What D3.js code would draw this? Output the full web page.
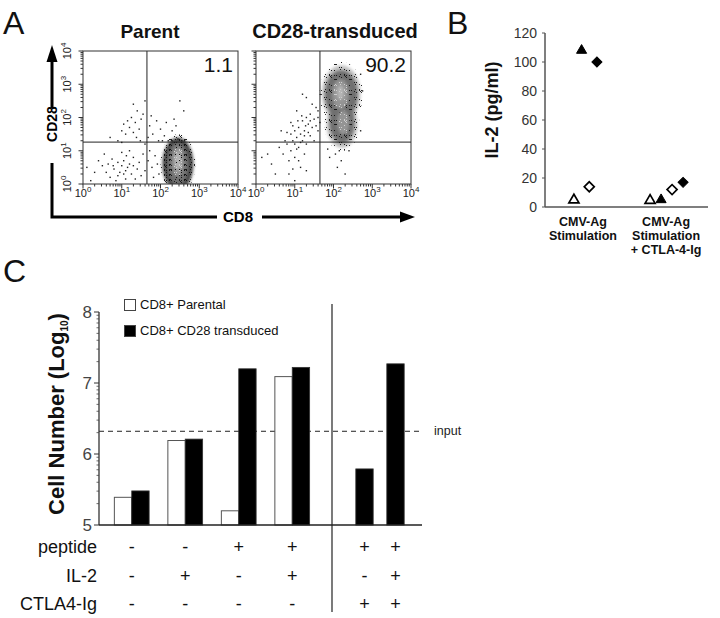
<!DOCTYPE html>
<html><head><meta charset="utf-8">
<script src="https://cdn.jsdelivr.net/npm/d3@7"></script>
<style>body{margin:0;background:#fff}svg{display:block}text{font-family:"Liberation Sans",Arial,Helvetica,sans-serif}</style>
</head><body>
<svg id="c" width="720" height="618"></svg>
<script>
// ---------- Panel A : flow cytometry (log10 units) ----------
const flowPlots = ["Parent", "CD28-transduced"];
const flowPercent = ["1.1", "90.2"];
const flowDecades = [0, 1, 2, 3, 4];
const quadrantGate = [1.65, 1.26]; // log10 CD8, log10 CD28
// dense populations: [log CD8 centre, log CD28 centre, log half-width, log half-height, density level]
const parentClusters = [[2.45,0.6,0.40,0.80,1],[2.45,0.6,0.28,0.66,2],[2.45,0.68,0.16,0.45,3],[2.45,0.7,0.08,0.28,4]];
const transducedClusters = [[2.2,2.72,0.5,0.85,0],[2.22,1.8,0.4,0.72,0],[2.2,2.7,0.42,0.72,2],[2.22,1.85,0.32,0.62,2],[2.18,2.7,0.22,0.45,3],[2.25,1.85,0.16,0.36,3],[2.18,2.75,0.09,0.22,4]];
// sparse events: [log CD8, log CD28]
const parentEvents = [[0.1,0.5],[0.2,0.1],[0.3,0.35],[0.55,0.9],[0.5,0.55],[0.7,0.2],[0.8,0.45],[0.9,0.65],[0.95,0.35],[1.0,0.55],[1.05,0.7],[1.1,0.4],[1.15,0.5],[1.2,0.6],[1.25,0.3],[1.3,0.8],[1.35,0.15],[1.4,0.45],[1.45,0.65],[1.5,0.25],[1.55,0.9],[0.65,0.6],[0.75,0.75],[0.85,0.1],[1.0,0.95],[1.1,0.15],[1.2,1.0],[1.3,0.55],[0.4,0.7],[0.6,0.35],[1.6,0.4],[1.68,0.7],[1.72,1.0],[1.78,0.5],[1.82,0.2],[1.86,0.85],[1.92,0.6],[1.96,0.3],[0.9,0.25],[1.05,0.3],[1.12,0.85],[0.78,0.55],
 [0.9,1.3],[1.0,1.6],[1.05,1.8],[1.1,1.5],[1.15,1.9],[1.2,1.7],[1.25,2.0],[1.3,1.55],[1.35,1.85],[1.4,2.2],[1.45,1.65],[1.5,1.95],[1.55,2.1],[1.6,2.5],[1.3,2.4],[1.0,1.25],[1.68,1.4],[1.72,1.75],[1.76,2.05],[1.8,1.5],[1.9,1.9],[1.95,1.3],[2.0,1.65],[2.1,1.45],[2.15,1.85],[2.2,1.3],[2.3,1.6],[2.35,1.95],[2.4,1.75],[2.45,1.35],[2.5,2.5],[2.6,2.2],[1.6,1.2],[0.7,1.4],[1.38,1.4],[1.48,1.3],[2.05,1.3],[2.3,1.3],[2.55,1.3],[2.62,1.3]];
const transducedEvents = [[0.4,0.6],[0.6,1.1],[0.7,0.9],[0.75,1.3],[0.8,1.2],[0.85,0.7],[0.9,1.0],[0.9,1.5],[0.95,1.3],[1.0,1.6],[1.0,0.8],[1.05,1.4],[1.1,1.7],[1.1,1.1],[1.15,1.5],[1.15,0.5],[1.2,1.9],[1.2,1.3],[1.25,1.6],[1.3,2.0],[1.3,1.2],[1.35,1.8],[1.4,2.1],[1.4,1.45],[1.45,1.7],[1.5,1.95],[1.5,1.3],[1.55,2.3],[1.6,1.6],[1.6,2.0],[1.65,1.85],[1.2,2.7],[1.3,2.6],[0.85,0.3],[1.0,0.1],[0.95,0.45],[1.1,0.7],[1.25,0.9],[0.5,0.3],[0.3,0.9],[0.15,0.8],[2.05,0.9],[2.1,0.5],[2.15,1.0],[2.2,0.7],[2.3,0.3],[1.9,0.8],[2.4,1.0],[1.3,0.4],[0.65,1.6],[0.9,1.85],[1.05,2.2],[1.45,2.4],[2.7,3.3],[2.75,2.8],[2.7,1.6],[1.85,1.05],[1.05,1.05],[1.15,1.25],[1.25,1.45],[1.35,1.55],[0.95,1.75],[1.08,1.9],[1.18,2.05],[1.28,1.75],[1.4,1.9],[1.55,1.75],[0.8,1.55],[1.6,2.2],[1.0,1.2]];

// ---------- Panel B : IL-2 ----------
const stimGroups = [["CMV-Ag","Stimulation"],["CMV-Ag","Stimulation","+ CTLA-4-Ig"]];
const il2Series = ["Parent exp1","CD28 exp1","Parent exp2","CD28 exp2"];
const il2Shapes = ["triangle","triangle","diamond","diamond"];
const il2Filled = [false,true,false,true];
const il2Stim = [4.8, 108, 14, 100];
const il2StimCtla = [4.5, 5, 12, 17];
const il2Ticks = [0,20,40,60,80,100,120];

// ---------- Panel C : cell numbers ----------
const conditions = ["1","2","3","4","5","6"];
const parental = [5.39, 6.19, 5.2, 7.09, null, null];
const transduced = [5.48, 6.21, 7.2, 7.22, 5.79, 7.27];
const inputLevel = 6.32;
const cTicks = [5,6,7,8];
const rowLabels = ["peptide","IL-2","CTLA4-Ig"];
const peptideRow = ["-","-","+","+","+","+"];
const il2Row = ["-","+","-","+","-","+"];
const ctlaRow = ["-","-","-","-","+","+"];
const legendLabels = ["CD8+ Parental","CD8+ CD28 transduced"];

// ================= drawing =================
const svg = d3.select("#c");
svg.append("rect").attr("width",720).attr("height",618).attr("fill","#fff");
const defs = svg.append("defs");
const soft = defs.append("filter").attr("id","soft").attr("x","-30%").attr("y","-30%").attr("width","160%").attr("height","160%");
soft.append("feGaussianBlur").attr("stdDeviation",1.6);
// speckle textures (styling only)
function speck(id, n, color, size){
  const p = defs.append("pattern").attr("id",id).attr("width",size).attr("height",size).attr("patternUnits","userSpaceOnUse");
  for(let i=0;i<n;i++){
    const x=(i*37+11+((i*i)%5))%size, y=(i*53+Math.floor(i*i/3)+7)%size;
    p.append("rect").attr("x",x).attr("y",y).attr("width",1).attr("height",1).attr("fill",color);
  }
}
speck("speckDense", 70, "#111", 15);
speck("speckSparse", 22, "#1a1a1a", 15);
speck("speckLight", 30, "#cfcfcf", 15);

// panel letters
[["A",3,34],["B",447,34],["C",3,282]].forEach(([t,x,y])=>svg.append("text").attr("x",x).attr("y",y).attr("font-size",32).attr("fill","#111").text(t));

// ----- Panel A -----
const boxes = [[83,238],[256,411]];
const yF = d3.scaleLinear().domain([0,4]).range([184,51]);
const levelColor = d3.scaleOrdinal().domain([0,1,2,3,4]).range(["#9a9a9a","#454545","#707070","#949494","#b6b6b6"]);
const minor = [];
flowDecades.slice(0,-1).forEach(d=>{for(let k=2;k<10;k++) minor.push(d+Math.log10(k));});

flowPlots.forEach((name,i)=>{
  const xF = d3.scaleLinear().domain([0,4]).range(boxes[i]);
  const g = svg.append("g");
  const cid = "clip"+i;
  defs.append("clipPath").attr("id",cid).append("rect").attr("x",xF(0)).attr("y",yF(4)).attr("width",xF(4)-xF(0)).attr("height",yF(0)-yF(4));
  const inner = g.append("g").attr("clip-path",`url(#${cid})`);
  const clusters = i===0?parentClusters:transducedClusters;
  const ell = (sel,k)=>sel.attr("cx",d=>xF(d[0])).attr("cy",d=>yF(d[1]))
    .attr("rx",d=>(xF(d[2])-xF(0))*k).attr("ry",d=>(yF(0)-yF(d[3]))*k);
  // sparse fringe of specks around the edge populations
  ell(inner.selectAll("ellipse.fr").data(clusters.filter(d=>d[4]<=1)).join("ellipse").attr("class","fr"),1.12)
    .attr("fill","url(#speckSparse)");
  ell(inner.selectAll("ellipse.b").data(clusters).join("ellipse").attr("class","b"),1)
    .attr("fill",d=>levelColor(d[4])).attr("opacity",d=>d[4]===0?0.6:1).attr("filter","url(#soft)");
  ell(inner.selectAll("ellipse.sp").data(clusters.filter(d=>d[4]<=2)).join("ellipse").attr("class","sp"),1)
    .attr("fill",d=>d[4]===1?"url(#speckDense)":"url(#speckSparse)");
  ell(inner.selectAll("ellipse.lt").data(clusters.filter(d=>d[4]>=3)).join("ellipse").attr("class","lt"),1)
    .attr("fill","url(#speckLight)");
  const ev = i===0?parentEvents:transducedEvents;
  inner.selectAll("rect.ev").data(ev).join("rect").attr("class","ev")
    .attr("x",d=>xF(d[0])-0.7).attr("y",d=>yF(d[1])-0.7).attr("width",1.4).attr("height",1.4).attr("fill","#222");
  // quadrant gate
  g.append("line").attr("x1",xF(quadrantGate[0])).attr("x2",xF(quadrantGate[0])).attr("y1",yF(0)).attr("y2",yF(4)).attr("stroke","#222");
  g.append("line").attr("y1",yF(quadrantGate[1])).attr("y2",yF(quadrantGate[1])).attr("x1",xF(0)).attr("x2",xF(4)).attr("stroke","#222");
  g.append("rect").attr("x",xF(0)).attr("y",yF(4)).attr("width",xF(4)-xF(0)).attr("height",yF(0)-yF(4)).attr("fill","none").attr("stroke","#333");
  // ticks
  g.selectAll("line.mx").data(minor).join("line").attr("class","mx").attr("x1",d=>xF(d)).attr("x2",d=>xF(d)).attr("y1",yF(0)).attr("y2",yF(0)+2.5).attr("stroke","#333");
  g.selectAll("line.Mx").data(flowDecades).join("line").attr("class","Mx").attr("x1",d=>xF(d)).attr("x2",d=>xF(d)).attr("y1",yF(0)).attr("y2",yF(0)+4.5).attr("stroke","#333");
  g.selectAll("line.my").data(minor).join("line").attr("class","my").attr("y1",d=>yF(d)).attr("y2",d=>yF(d)).attr("x1",xF(0)).attr("x2",xF(0)-2.5).attr("stroke","#333");
  g.selectAll("line.My").data(flowDecades).join("line").attr("class","My").attr("y1",d=>yF(d)).attr("y2",d=>yF(d)).attr("x1",xF(0)).attr("x2",xF(0)-4.5).attr("stroke","#333");
  // x tick labels
  flowDecades.forEach(d=>{
    const t = g.append("text").attr("x",xF(d)).attr("y",197).attr("text-anchor","middle").attr("font-size",11).attr("fill","#222");
    t.append("tspan").text("10");
    t.append("tspan").attr("dy",-5).attr("font-size",8).text(d);
  });
  if(i===0){
    flowDecades.forEach(d=>{
      const t = g.append("text").attr("transform",`translate(71,${yF(d)}) rotate(-90)`).attr("text-anchor","middle").attr("font-size",11).attr("fill","#222");
      t.append("tspan").text("10");
      t.append("tspan").attr("dy",-5).attr("font-size",8).text(d);
    });
  }
  g.append("text").attr("x",i===0?150:335).attr("y",38).attr("text-anchor","middle").attr("font-size",i===0?19:20).attr("font-weight","bold").attr("fill","#111").text(name);
  g.append("text").attr("x",xF(4)-5).attr("y",72).attr("text-anchor","end").attr("font-size",21).attr("fill","#111").text(flowPercent[i]);
});
// axis arrows
svg.append("path").attr("d","M52,108V60M52,163V217H217M262,217H401").attr("fill","none").attr("stroke","#000").attr("stroke-width",3);
svg.append("path").attr("d","M46.5,62L57.5,62L52,45Z").attr("fill","#000");
svg.append("path").attr("d","M400,211.5L400,222.5L415,217Z").attr("fill","#000");
svg.append("text").attr("transform","translate(57,124) rotate(-90)").attr("text-anchor","middle").attr("font-size",14).attr("font-weight","bold").text("CD28");
svg.append("text").attr("x",238).attr("y",222).attr("text-anchor","middle").attr("font-size",15).attr("font-weight","bold").text("CD8");

// ----- Panel B -----
const yB = d3.scaleLinear().domain([0,120]).range([207,33]);
const xB = d3.scalePoint().domain([0,1]).range([543,706]).padding(0.48);
const innerRanges = [[-9,14],[-16,17]];
const gB = svg.append("g");
gB.append("line").attr("x1",545).attr("x2",545).attr("y1",yB(120)).attr("y2",yB(0)).attr("stroke","#555").attr("stroke-width",1.5);
gB.append("line").attr("x1",545).attr("x2",708).attr("y1",yB(0)).attr("y2",yB(0)).attr("stroke","#555").attr("stroke-width",1.5);
gB.selectAll("line.t").data(il2Ticks).join("line").attr("class","t").attr("x1",542).attr("x2",545).attr("y1",d=>yB(d)).attr("y2",d=>yB(d)).attr("stroke","#555");
gB.selectAll("text.t").data(il2Ticks).join("text").attr("class","t").attr("x",537).attr("y",d=>yB(d)+5).attr("text-anchor","end").attr("font-size",14).attr("fill","#333").text(d=>d);
gB.append("text").attr("transform","translate(498,110) rotate(-90)").attr("text-anchor","middle").attr("font-size",18).attr("font-weight","bold").attr("fill","#111").text("IL-2 (pg/ml)");
[il2Stim, il2StimCtla].forEach((vals,gi)=>{
  const inner = d3.scalePoint().domain(il2Series).range(innerRanges[gi]);
  gB.selectAll(null).data(il2Series).join("path")
    .attr("transform",(s,j)=>`translate(${xB(gi)+inner(s)},${yB(vals[j])})${il2Shapes[j]==="diamond"?" rotate(45)":""}`)
    .attr("d",(s,j)=>d3.symbol(il2Shapes[j]==="diamond"?d3.symbolSquare:d3.symbolTriangle, il2Shapes[j]==="diamond"?50:44)())
    .attr("fill",(s,j)=>il2Filled[j]?"#000":"#fff")
    .attr("stroke","#000").attr("stroke-width",(s,j)=>il2Filled[j]?1:1.7);
  stimGroups[gi].forEach((line,k)=>gB.append("text").attr("x",xB(gi)).attr("y",226+k*14).attr("text-anchor","middle").attr("font-size",12.5).attr("font-weight","bold").attr("fill","#111").text(line));
});

// ----- Panel C -----
const yC = d3.scaleLinear().domain([5,8]).range([525,312]);
const xL = d3.scaleBand().domain(conditions.slice(0,4)).range([105,319]).paddingInner(0.35).paddingOuter(0.175);
const xR = d3.scaleBand().domain(conditions.slice(4)).range([349,411]).paddingInner(0.4).paddingOuter(0.2);
const barW = xL.bandwidth()/2;
const centre = c => xL.domain().includes(c) ? xL(c)+xL.bandwidth()/2 : xR(c)+xR.bandwidth()/2;
const gC = svg.append("g");
// dashed input line
gC.append("line").attr("x1",99).attr("x2",423).attr("y1",yC(inputLevel)).attr("y2",yC(inputLevel)).attr("stroke","#222").attr("stroke-dasharray","5,4");
gC.append("text").attr("x",434).attr("y",yC(inputLevel)+4).attr("font-size",12.5).attr("fill","#222").text("input");
// bars
const barsData = conditions.map((c,i)=>({c,p:parental[i],t:transduced[i]}));
gC.selectAll("rect.p").data(barsData.filter(d=>d.p!==null)).join("rect").attr("class","p")
  .attr("x",d=>centre(d.c)-barW).attr("width",barW).attr("y",d=>yC(d.p)).attr("height",d=>yC(5)-yC(d.p))
  .attr("fill","#fff").attr("stroke","#555").attr("stroke-width",1);
gC.selectAll("rect.t").data(barsData).join("rect").attr("class","t")
  .attr("x",d=>d.p!==null?centre(d.c):centre(d.c)-barW/2).attr("width",barW).attr("y",d=>yC(d.t)).attr("height",d=>yC(5)-yC(d.t))
  .attr("fill","#000").attr("stroke","#333").attr("stroke-width",0.8);
// axes
gC.append("line").attr("x1",99).attr("x2",99).attr("y1",yC(8)).attr("y2",yC(5)).attr("stroke","#333").attr("stroke-width",1.3);
gC.append("line").attr("x1",99).attr("x2",422).attr("y1",yC(5)).attr("y2",yC(5)).attr("stroke","#222").attr("stroke-width",1.5);
gC.append("line").attr("x1",332).attr("x2",332).attr("y1",304).attr("y2",612).attr("stroke","#222").attr("stroke-width",1.2);
const cMinor = [];
cTicks.slice(0,-1).forEach(d=>{for(let k=2;k<10;k++) cMinor.push(d+Math.log10(k));});
gC.selectAll("line.cm").data(cMinor).join("line").attr("class","cm").attr("x1",96.5).attr("x2",99).attr("y1",d=>yC(d)).attr("y2",d=>yC(d)).attr("stroke","#444").attr("stroke-width",0.8);
gC.selectAll("line.cM").data(cTicks).join("line").attr("class","cM").attr("x1",94).attr("x2",99).attr("y1",d=>yC(d)).attr("y2",d=>yC(d)).attr("stroke","#333");
gC.selectAll("text.cM").data(cTicks).join("text").attr("class","cM").attr("x",92).attr("y",d=>yC(d)+6).attr("text-anchor","end").attr("font-size",17).attr("fill","#444").text(d=>d);
const yl = gC.append("text").attr("transform","translate(64,414) rotate(-90)").attr("text-anchor","middle").attr("font-size",22).attr("font-weight","bold").attr("fill","#111");
yl.append("tspan").text("Cell Number (Log");
yl.append("tspan").attr("dy",4).attr("font-size",10).text("10");
yl.append("tspan").attr("dy",-4).text(")");
// legend
legendLabels.forEach((l,i)=>{
  gC.append("rect").attr("x",124.5).attr("y",299.5+i*26).attr("width",11).attr("height",11).attr("fill",i?"#000":"#fff").attr("stroke","#444");
  gC.append("text").attr("x",140).attr("y",309+i*26).attr("font-size",13).attr("fill","#111").text(l);
});
// condition table
[peptideRow, il2Row, ctlaRow].forEach((row,r)=>{
  const y = 553 + r*28.5;
  gC.append("text").attr("x",97).attr("y",y).attr("text-anchor","end").attr("font-size",18).attr("fill","#111").text(rowLabels[r]);
  gC.selectAll(null).data(row).join("text").attr("x",(v,i)=>centre(conditions[i])).attr("y",y).attr("text-anchor","middle").attr("font-size",18).attr("fill","#111").text(v=>v);
});
</script>
</body></html>
